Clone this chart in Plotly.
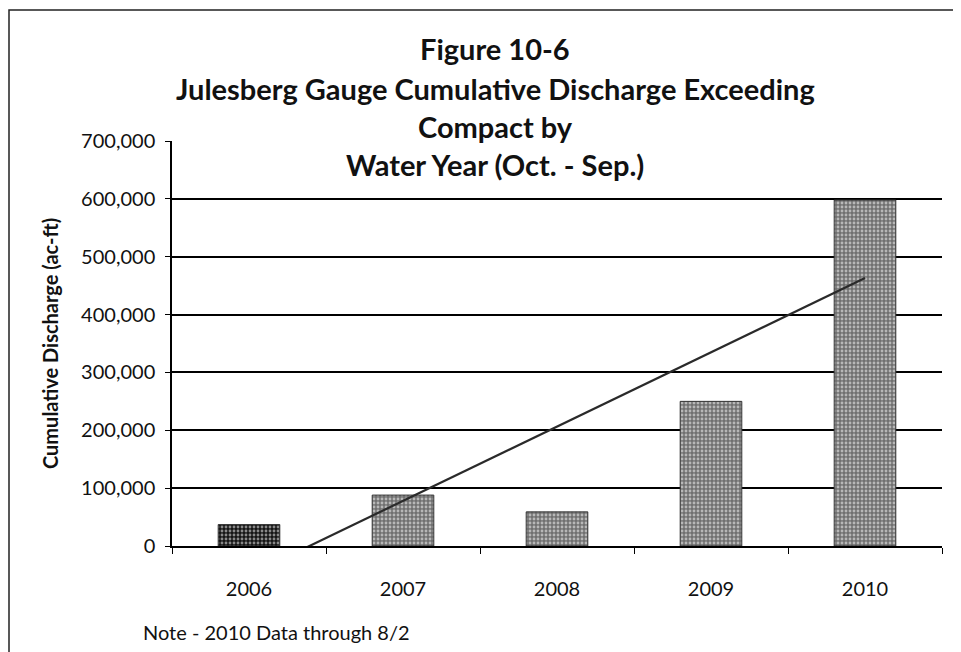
import numpy as np
import plotly.graph_objects as go

years = ["2006", "2007", "2008", "2009", "2010"]
discharge = [37000, 88000, 59000, 250000, 598000]
y_ticks = [0, 100000, 200000, 300000, 400000, 500000, 600000, 700000]
title_lines = ["Figure 10-6",
               "Julesberg Gauge Cumulative Discharge Exceeding",
               "Compact by",
               "Water Year (Oct. - Sep.)"]
y_title = "Cumulative Discharge (ac-ft)"
note = "Note - 2010 Data through 8/2"

OFF = 8  # page body margin
W, H = 961 - OFF, 652 - OFF
L, R, T, B = 172 - OFF, 942 - OFF, 141 - OFF, 546 - OFF
pw, ph = R - L, B - T

def px(x):
    return (x - OFF - L) / pw

def py(y):
    return (B - (y - OFF)) / ph

xs = list(range(1, len(years) + 1))

m, b = np.polyfit(xs, discharge, 1)
trend_x = [xs[0], xs[-1]]
trend_y = [m * xs[0] + b, m * xs[-1] + b]

fig = go.Figure()
fig.add_trace(go.Bar(
    x=xs, y=discharge, width=0.4,
    marker=dict(color=["#151515"] + ["#707070"] * 4,
                line=dict(color="#333333", width=1),
                pattern=dict(shape=".",
                             fgcolor=["#0c0c0c"] + ["#3e3e3e"] * 4,
                             bgcolor=["#1a1a1a"] + ["#7a7a7a"] * 4,
                             size=4, solidity=0.4)),
    showlegend=False,
))
fig.add_trace(go.Scatter(
    x=trend_x, y=trend_y, mode="lines",
    line=dict(color="#2a2a2a", width=2.2), showlegend=False,
))

font_fam = "Lato, 'Open Sans', sans-serif"

annotations = []
title_y = [48, 89, 126, 164]
for txt, ty in zip(title_lines, title_y):
    annotations.append(dict(text="<b>%s</b>" % txt, x=px(495), y=py(ty),
                            xref="paper", yref="paper", xanchor="center",
                            yanchor="middle", showarrow=False,
                            font=dict(family=font_fam, size=29, color="#111")))
annotations.append(dict(text="<b>%s</b>" % y_title, x=px(50), y=py(344),
                        xref="paper", yref="paper", textangle=-90,
                        xanchor="center", yanchor="middle", showarrow=False,
                        font=dict(family=font_fam, size=20, color="#111")))
annotations.append(dict(text=note, x=px(141), y=py(632), xref="paper",
                        yref="paper", xanchor="left", yanchor="middle",
                        showarrow=False,
                        font=dict(family=font_fam, size=20, color="#111")))

fig.update_layout(
    width=W, height=H,
    margin=dict(l=L, r=W - R, t=T, b=H - B),
    paper_bgcolor="white", plot_bgcolor="white",
    font=dict(family=font_fam, size=20, color="#111"),
    annotations=annotations,
    shapes=[dict(type="rect", xref="paper", yref="paper",
                 x0=px(9), x1=px(956), y0=py(700), y1=py(10),
                 line=dict(color="#222", width=1.5), layer="below")],
    bargap=0.6,
)
fig.update_xaxes(
    range=[0.5, len(years) + 0.5], tickvals=xs, ticktext=years,
    ticks="", showgrid=False, showline=True, linecolor="black", linewidth=1.5,
    ticklabelstandoff=24, zeroline=False,
    minor=dict(tickvals=[i + 0.5 for i in range(len(years) + 1)],
               ticks="outside", ticklen=6, tickcolor="black", showgrid=False),
    tickfont=dict(size=20),
)
fig.update_yaxes(
    range=[0, 700000], tickvals=y_ticks, tickformat=",d",
    showgrid=True, gridcolor="black", gridwidth=1.5,
    showline=True, linecolor="black", linewidth=1.5,
    ticks="outside", ticklen=5, tickcolor="black",
    ticklabelstandoff=6, zeroline=False,
    tickfont=dict(size=20),
)

fig.write_html("out.html")
